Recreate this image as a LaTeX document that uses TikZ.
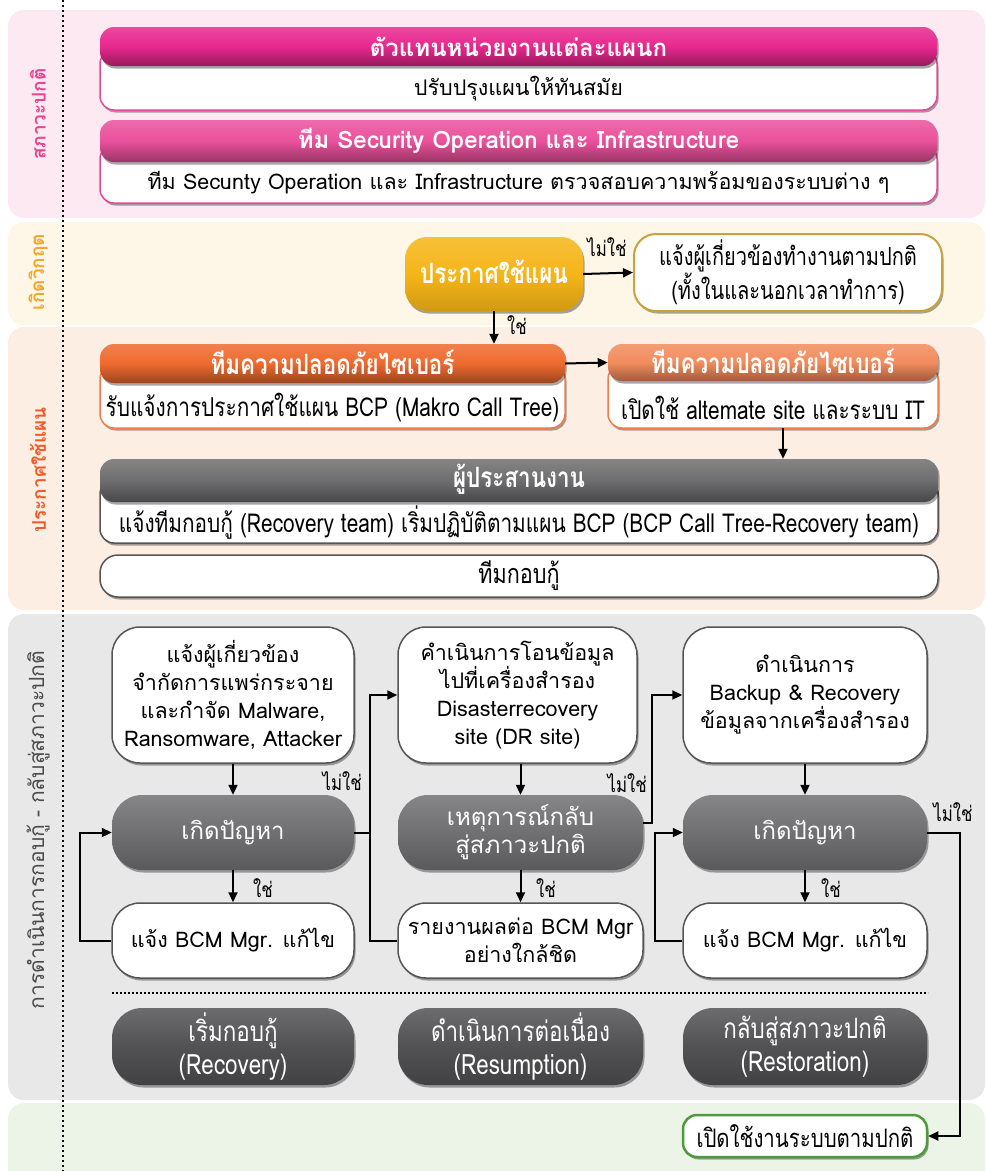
\documentclass[tikz,border=0pt]{standalone}
\usepackage{fontspec}
\setmainfont{Loma}[Script=Thai]
\newfontfamily\thc{Loma}[Script=Thai,FakeStretch=0.8]
\usetikzlibrary{shadows,arrows.meta,calc}
\definecolor{bandA}{HTML}{FCE9F1}
\definecolor{bandB}{HTML}{FEF6E6}
\definecolor{bandC}{HTML}{FDEEE4}
\definecolor{bandD}{HTML}{E8E8E8}
\definecolor{bandE}{HTML}{EBF4E6}
\definecolor{magA}{HTML}{E8288E}
\definecolor{magB}{HTML}{EA519C}
\definecolor{pinkline}{HTML}{E8489A}
\definecolor{yel}{HTML}{F6B518}
\definecolor{gold}{HTML}{C9A23B}
\definecolor{orA}{HTML}{EE6A2E}
\definecolor{orB}{HTML}{F28C5D}
\definecolor{orline}{HTML}{F07C4A}
\definecolor{grH}{HTML}{6E6E70}
\definecolor{grB}{HTML}{707072}
\definecolor{grD}{HTML}{525254}
\definecolor{grline}{HTML}{555555}
\definecolor{grn}{HTML}{4C9A3A}
\definecolor{labA}{HTML}{E8458F}
\definecolor{labB}{HTML}{F4A62A}
\definecolor{labC}{HTML}{EF5B2B}
\definecolor{labD}{HTML}{4A4A4A}
\begin{document}
\begin{tikzpicture}[x=1pt,y=-1pt,
  shd/.style={drop shadow={shadow xshift=1.5pt,shadow yshift=-2.5pt,opacity=0.35,fill=black}},
  bodybox/.style={draw=#1,line width=1.5pt,fill=white,rounded corners=14pt,shd},
  hdr/.style={rounded corners=14pt,top color=#1!85!white,bottom color=#1!65!black,middle color=#1,shd,text=white},
  wbox/.style={draw=grline,line width=1.5pt,fill=white,rounded corners=28pt,shd,align=center,font=\fontsize{21.5}{28}\selectfont},
  gbox/.style={rounded corners=30pt,top color=#1!85!white,bottom color=#1!80!black,middle color=#1,shd,text=white,align=center,font=\fontsize{24}{28}\selectfont},
  dbox/.style={rounded corners=30pt,top color=#1!85!white,bottom color=#1!80!black,middle color=#1,shd,text=white,align=center,font=\thc\fontsize{28}{33}\selectfont},
  txt/.style={inner sep=0pt,font=\fontsize{21.5}{25}\selectfont},
  ctxt/.style={inner sep=0pt,font=\thc\fontsize{26}{30}\selectfont},
  htxt/.style={inner sep=0pt,text=white,font=\fontsize{24}{28}\selectfont\bfseries},
  chtxt/.style={inner sep=0pt,text=white,font=\thc\fontsize{28}{32}\selectfont\bfseries},
  side/.style={rotate=90,inner sep=0pt,font=\fontsize{19}{22}\selectfont\bfseries},
  lbl/.style={inner sep=0pt,font=\thc\fontsize{21}{24}\selectfont},
  arr/.style={line width=2pt,-{Triangle[length=10pt,width=9pt]}},
  ln/.style={line width=2pt}
]
\path[use as bounding box, clip] (0,0) rectangle (986,1171);
% bands
\fill[bandA,rounded corners=16pt] (8,10) rectangle (985,218);
\fill[bandB,rounded corners=16pt] (8,222) rectangle (985,325);
\fill[bandC,rounded corners=16pt] (8,327) rectangle (985,610);
\fill[bandD,rounded corners=16pt] (8,614) rectangle (985,1100);
\fill[bandE,rounded corners=16pt] (8,1103) rectangle (985,1200);
\draw[line width=2.2pt,dash pattern=on 2pt off 3pt] (63,0) -- (63,1171);
% side labels
\node[side,text=labA] (s1) at (38,114) {สภาวะปกติ};
\node[side,text=labB] (s2) at (38,272) {เกิดวิกฤต};
\node[side,text=labC] (s3) at (38,470) {ประกาศใช้แผน};
\node[side,text=labD,font=\fontsize{21}{24}\selectfont] (s4) at (38,830) {การดำเนินการกอบกู้ - กลับสู่สภาวะปกติ};
% band 1
\node[bodybox=pinkline,minimum width=837pt,minimum height=60pt] (body1) at (518.5,80) {};
\node[hdr=magA,minimum width=837pt,minimum height=39pt] (head1) at (518.5,46.5) {};
\node[htxt] (t1h) at (518.5,46.5) {ตัวแทนหน่วยงานแต่ละแผนก};
\node[txt] (t1) at (518.5,89) {ปรับปรุงแผนให้ทันสมัย};
\node[bodybox=pinkline,minimum width=837pt,minimum height=58pt] (body2) at (518.5,174) {};
\node[hdr=magB,minimum width=837pt,minimum height=42pt] (head2) at (518.5,141) {};
\node[htxt] (t2h) at (518.5,141) {ทีม Security Operation และ Infrastructure};
\node[txt] (t2) at (518.5,183) {ทีม Secunty Operation และ Infrastructure ตรวจสอบความพร้อมของระบบต่าง ๆ};
% band 2
\node[rounded corners=22pt,top color=yel!85!white,bottom color=yel!85!black,middle color=yel,shd,minimum width=178pt,minimum height=74pt] (yes1) at (494,274) {};
\node[chtxt] (t3h) at (494,272) {ประกาศใช้แผน};
\node[draw=gold,line width=2pt,fill=white,rounded corners=22pt,shd,minimum width=308pt,minimum height=77pt,align=center,font=\thc\fontsize{25}{30}\selectfont] (no1) at (788,272.5) {แจ้งผู้เกี่ยวข้องทำงานตามปกติ\\(ทั้งในและนอกเวลาทำการ)};
\draw[arr] (yes1.east) -- (no1.west);
\node[lbl] (l1) at (607,247) {ไม่ใช่};
% band 3
\node[bodybox=orline,minimum width=465pt,minimum height=63pt] (body3) at (332.5,396.5) {};
\node[hdr=orA,minimum width=465pt,minimum height=39pt] (head3) at (332.5,363.5) {};
\node[chtxt] (t3hh) at (332.5,362) {ทีมความปลอดภัยไซเบอร์};
\node[ctxt] (t3) at (332.5,408) {รับแจ้งการประกาศใช้แผน BCP (Makro Call Tree)};
\node[bodybox=orline,minimum width=330pt,minimum height=63pt] (body4) at (773,396.5) {};
\node[hdr=orB,minimum width=330pt,minimum height=37pt] (head4) at (773,362.5) {};
\node[chtxt] (t4h) at (773,361) {ทีมความปลอดภัยไซเบอร์};
\node[ctxt] (t4) at (773,408) {เปิดใช้ altemate site และระบบ IT};
\draw[arr] (yes1.south) -- (yes1.south |- head3.north);
\node[lbl] (l2) at (517,325) {ใช่};
\draw[arr] (head3.east) -- (head4.west);
\node[bodybox=grline,minimum width=838pt,minimum height=63pt] (body5) at (519,511.5) {};
\node[hdr=grH,minimum width=838pt,minimum height=43pt] (head5) at (519,480.5) {};
\node[chtxt] (t5h) at (519,479) {ผู้ประสานงาน};
\node[ctxt] (t5) at (519,523) {แจ้งทีมกอบกู้ (Recovery team) เริ่มปฏิบัติตามแผน BCP (BCP Call Tree-Recovery team)};
\coordinate (c4) at (783,428);
\draw[arr] (c4) -- (c4 |- head5.north);
\node[draw=grline,line width=1.5pt,fill=white,rounded corners=18pt,shd,minimum width=838pt,minimum height=42pt,font=\thc\fontsize{27}{30}\selectfont] (team) at (519,576) {ทีมกอบกู้};
% band 4
\node[wbox,minimum width=242pt,minimum height=136pt] (A1) at (233,695) {แจ้งผู้เกี่ยวข้อง\\จำกัดการแพร่กระจาย\\และกำจัด Malware,\\Ransomware, Attacker};
\node[gbox=grB,minimum width=242pt,minimum height=75pt] (A2) at (233,832.5) {เกิดปัญหา};
\node[wbox,minimum width=242pt,minimum height=75pt] (A3) at (233,940.5) {แจ้ง BCM Mgr. แก้ไข};
\node[wbox,minimum width=239pt,minimum height=136pt] (B1) at (517.5,695) {คำเนินการโอนข้อมูล\\ไปที่เครื่องสำรอง\\Disasterrecovery\\site (DR site)};
\node[gbox=grB,minimum width=245pt,minimum height=75pt] (B2) at (520.5,832.5) {เหตุการณ์กลับ\\สู่สภาวะปกติ};
\node[wbox,minimum width=245pt,minimum height=75pt] (B3) at (520.5,940.5) {รายงานผลต่อ BCM Mgr\\อย่างใกล้ชิด};
\node[wbox,minimum width=244pt,minimum height=136pt] (C1) at (805,695) {ดำเนินการ\\Backup \& Recovery\\ข้อมูลจากเครื่องสำรอง};
\node[gbox=grB,minimum width=244pt,minimum height=75pt] (C2) at (805,832.5) {เกิดปัญหา};
\node[wbox,minimum width=244pt,minimum height=75pt] (C3) at (805,940.5) {แจ้ง BCM Mgr. แก้ไข};
\draw[arr] (A1) -- (A2);
\draw[arr] (A2) -- (A3);
\draw[arr] (B1.south -| B2) -- (B2);
\draw[arr] (B2) -- (B3);
\draw[arr] (C1) -- (C2);
\draw[arr] (C2) -- (C3);
\node[lbl] (y1) at (263,888) {ใช่};
\node[lbl] (y2) at (546,888) {ใช่};
\node[lbl] (y3) at (831,888) {ใช่};
\coordinate (ja) at (80,940.5);
\draw[arr] (A3.west) -- (ja) |- (A2.west);
\coordinate (jb) at (370,832.5);
\draw[arr] (A2.east) -- (jb) |- (B1.west);
\draw[ln] (B3.west) -| (jb);
\node[lbl,anchor=east] (n1) at (362,781) {ไม่ใช่};
\coordinate (jc) at (652,823);
\draw[arr] (B2.east |- jc) -- (jc) |- (C1.west);
\node[lbl,anchor=east] (n2) at (647,783) {ไม่ใช่};
\coordinate (jd) at (655,940.5);
\draw[arr] (C3.west) -- (jd) |- (C2.west);
\draw[line width=2pt,dash pattern=on 2pt off 2pt] (112,993) -- (928,993);
\node[dbox=grD,minimum width=242pt,minimum height=77pt] (D1) at (233,1046.5) {เริ่มกอบกู้\\(Recovery)};
\node[dbox=grD,minimum width=245pt,minimum height=77pt] (D2) at (520.5,1046.5) {ดำเนินการต่อเนื่อง\\(Resumption)};
\node[dbox=grD,minimum width=244pt,minimum height=77pt] (D3) at (805,1046.5) {กลับสู่สภาวะปกติ\\(Restoration)};
% band 5
\node[draw=grn,line width=2.5pt,fill=white,rounded corners=14pt,shd,minimum width=244pt,minimum height=42pt,font=\thc\fontsize{25.5}{28}\selectfont] (G) at (805,1136) {เปิดใช้งานระบบตามปกติ};
\coordinate (je) at (960,832.5);
\draw[arr] (C2.east) -- (je) |- (G.east);
\node[lbl] (n3) at (953,812) {ไม่ใช่};
\end{tikzpicture}
\end{document}
